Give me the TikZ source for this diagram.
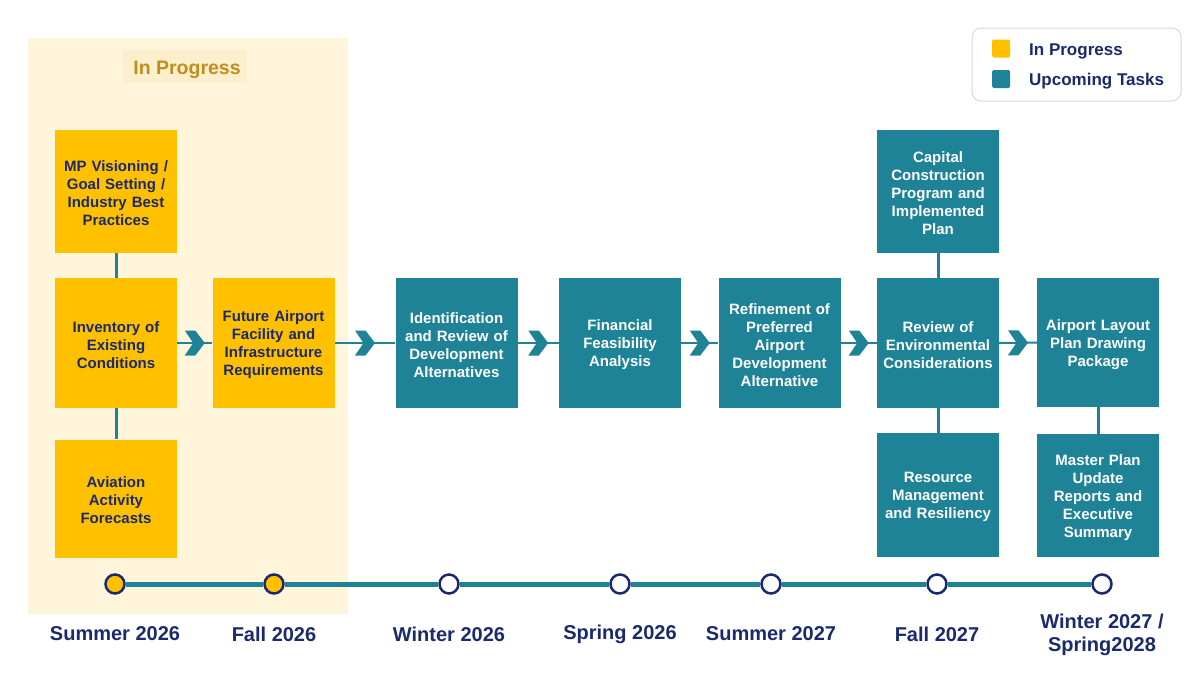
\documentclass[tikz,border=0pt]{standalone}
\usepackage{fontspec}
\setmainfont{Liberation Sans}
\usetikzlibrary{calc}
\definecolor{ylw}{HTML}{FFC000}
\definecolor{tealc}{HTML}{1E8396}
\definecolor{navy}{HTML}{1A2A6C}
\definecolor{cream}{HTML}{FFF5DA}
\definecolor{creamdk}{HTML}{FCEFCE}
\definecolor{gold}{HTML}{BF8F1E}
\definecolor{lgray}{HTML}{D9DADF}
\tikzset{
  box/.style={rectangle, minimum width=122pt, minimum height=123pt, inner sep=0pt,
    text width=120pt, align=center, font=\fontsize{15}{18}\selectfont\bfseries,
    execute at begin node={\rule{0pt}{15pt}}},
  ybox/.style={box, fill=ylw, text=navy},
  tbox/.style={box, fill=tealc, text=white},
  conn/.style={draw=tealc, line width=2pt},
  vconn/.style={draw=tealc, line width=3pt},
  tl/.style={draw=tealc, line width=5pt},
  dot/.style={circle, minimum size=19pt, inner sep=0pt, line width=2.5pt, draw=navy},
  ydot/.style={dot, fill=ylw},
  wdot/.style={dot, fill=white},
  lbl/.style={font=\fontsize{20}{23}\selectfont\bfseries, text=navy, align=center, inner sep=0pt},
  legtxt/.style={font=\fontsize{17}{20}\selectfont\bfseries, text=navy, anchor=west, inner sep=0pt},
  legsq/.style={rectangle, minimum size=18pt, inner sep=0pt, rounded corners=1.5pt},
  chev/.pic={\fill[tealc] (-10,-12.5) -- (0.5,-12.5) -- (10,0) -- (0.5,12.5) -- (-10,12.5) -- (-1.5,0) -- cycle;}
}
\begin{document}
\begin{tikzpicture}[x=1pt, y=-1pt]
\useasboundingbox (0,0) rectangle (1200,675);
\fill[white] (0,0) rectangle (1200,675);
% in-progress panel
\fill[cream] (28,38) rectangle (348,614);
\node[fill=creamdk, minimum width=124pt, minimum height=33pt, inner sep=0pt] (hl) at (185,66) {};
\node[font=\fontsize{19.5}{23}\selectfont\bfseries, text=gold, inner sep=0pt] (title) at (187,69.5) {In Progress};
% boxes
\node[ybox] (b1) at (116,191.5) {MP Visioning /\\Goal Setting /\\Industry Best\\Practices};
\node[ybox, minimum height=130pt] (b2) at (116,343) {Inventory of\\Existing\\Conditions};
\node[ybox, minimum height=118pt] (b3) at (116,498.5) {Aviation\\Activity\\Forecasts};
\node[ybox, minimum height=130pt] (b4) at (273.5,343) {Future Airport\\Facility and\\Infrastructure\\Requirements};
\node[tbox, minimum height=130pt] (b5) at (456.5,343) {Identification\\and Review of\\Development\\Alternatives};
\node[tbox, minimum height=130pt] (b6) at (620,343) {Financial\\Feasibility\\Analysis};
\node[tbox, minimum height=130pt] (b7) at (779.5,343) {Refinement of\\Preferred\\Airport\\Development\\Alternative};
\node[tbox, minimum height=130pt] (b8) at (938,343) {Review of\\Environmental\\Considerations};
\node[tbox] (b9) at (938,191.5) {Capital\\Construction\\Program and\\Implemented\\Plan};
\node[tbox, minimum height=124pt] (b10) at (938,495) {Resource\\Management\\and Resiliency};
\node[tbox, minimum height=129pt] (b11) at (1098,342.5) {Airport Layout\\Plan Drawing\\Package};
\node[tbox, minimum height=123pt] (b12) at (1098,495.5) {Master Plan\\Update\\Reports and\\Executive\\Summary};
% vertical connectors
\draw[vconn] (b1) -- (b2);
\draw[vconn] (b2) -- (b3);
\draw[vconn] (b9) -- (b8);
\draw[vconn] (b8) -- (b10);
\draw[vconn] (b11.south) -- (b12.north);
% horizontal connectors with chevrons
\foreach \a/\b in {b2/b4, b4/b5, b5/b6, b6/b7, b7/b8, b8/b11} {
  \draw[conn] (\a.east) -- (\b.west);
  \pic at ($(\a.east)!0.5!(\b.west)$) {chev};
}
% timeline
\node[ydot] (c1) at (115,584) {};
\node[ydot] (c2) at (274,584) {};
\node[wdot] (c3) at (449,584) {};
\node[wdot] (c4) at (620,584) {};
\node[wdot] (c5) at (771,584) {};
\node[wdot] (c6) at (937,584) {};
\node[wdot] (c7) at (1102,584) {};
\draw[tl] (c1) -- (c2) -- (c3) -- (c4) -- (c5) -- (c6) -- (c7);
\node[lbl] (l1) at (115,634) {Summer 2026};
\node[lbl] (l2) at (274,634) {Fall 2026};
\node[lbl] (l3) at (449,634) {Winter 2026};
\node[lbl] (l4) at (620,634) {Spring 2026};
\node[lbl] (l5) at (771,634) {Summer 2027};
\node[lbl] (l6) at (937,634) {Fall 2027};
\node[lbl] (l7) at (1102,635) {Winter 2027 /\\Spring2028};
% legend
\node[draw=lgray, line width=1pt, rounded corners=9pt, fill=white, minimum width=209pt, minimum height=73pt, inner sep=0pt] (leg) at (1076.5,64.5) {};
\node[legsq, fill=ylw] (s1) at (1001,48.5) {};
\node[legsq, fill=tealc] (s2) at (1001,79) {};
\node[legtxt] (t1) at (1029,51) {In Progress};
\node[legtxt] (t2) at (1029,81) {Upcoming Tasks};
\end{tikzpicture}
\end{document}
